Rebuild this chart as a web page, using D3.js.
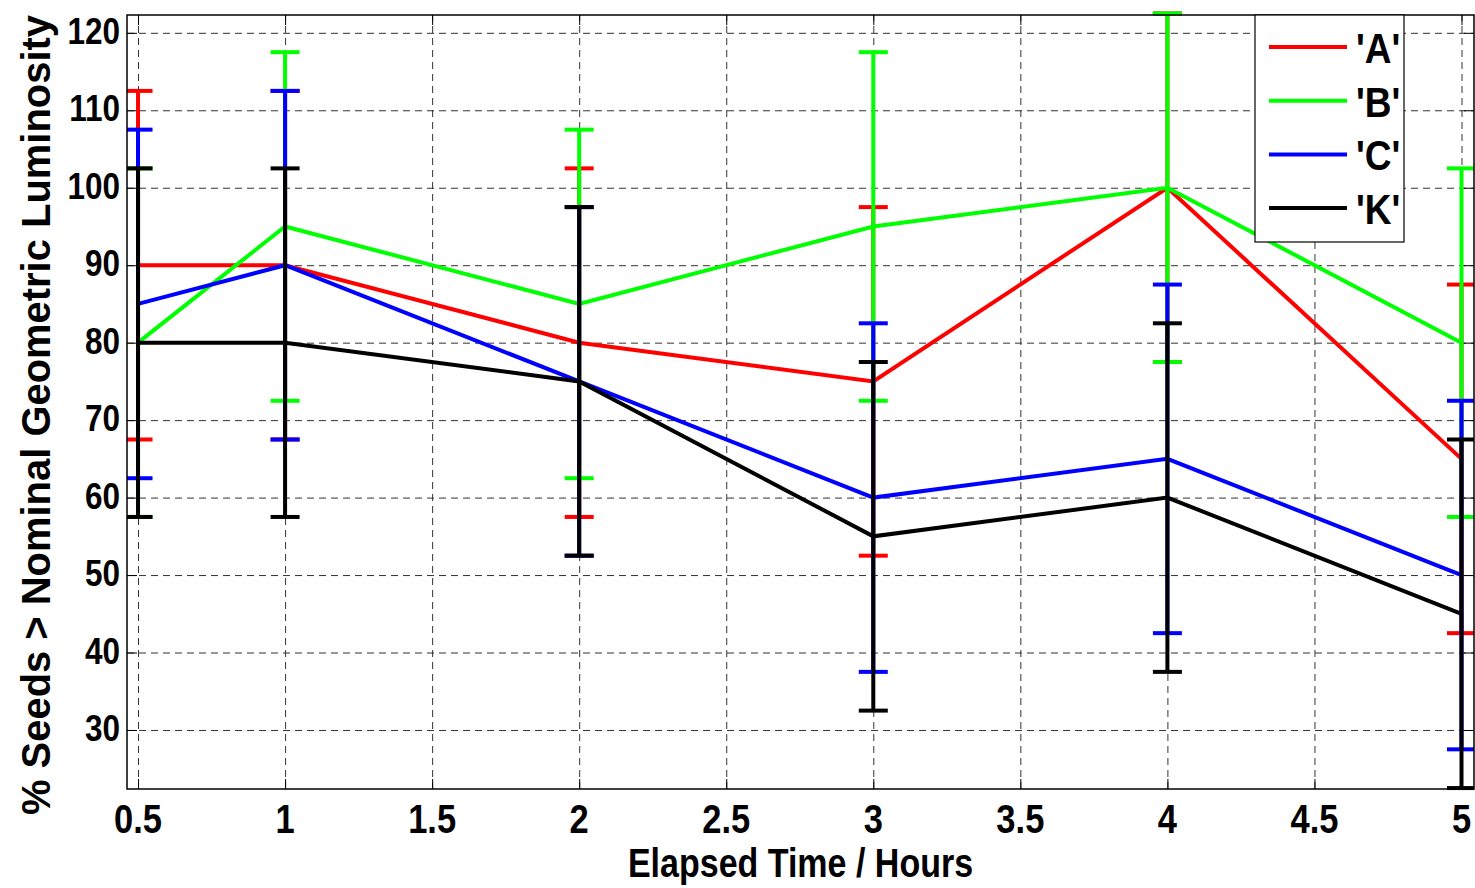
<!DOCTYPE html>
<html lang="en">
<head>
    <meta charset="UTF-8">
    <title>Seeds Luminosity vs Elapsed Time</title>
    <script src="https://d3js.org/d3.v7.min.js"></script>
    <style>
        body { margin: 0; background: #fff; }
        text { font-family: "Liberation Sans", Arial, Helvetica, sans-serif; font-weight: bold; fill: #000; }
        .grid line { stroke: #333; stroke-width: 1px; stroke-dasharray: 7,5; }
        .grid path { display: none; }
        .ticks path { display: none; }
        .ticks line { stroke: #000; stroke-width: 1px; }
        .series-line { fill: none; stroke-width: 4px; stroke-linejoin: miter; }
        .err { stroke-width: 4px; }
    </style>
</head>
<body>
<div id="chart"></div>
<script>
    // data
    const times = [0.5, 1, 2, 3, 4, 5];
    const seriesNames = ["'A'", "'B'", "'C'", "'K'"];
    const seriesColors = ["#ff0000", "#00ff00", "#0000ff", "#000000"];
    const valuesA = [90, 90, 80, 75, 100, 65];
    const valuesB = [80, 95, 85, 95, 100, 80];
    const valuesC = [85, 90, 75, 60, 65, 50];
    const valuesK = [80, 80, 75, 55, 60, 45];
    const errA = [22.5, 22.5, 22.5, 22.5, 22.5, 22.5];
    const errB = [22.5, 22.5, 22.5, 22.5, 22.5, 22.5];
    const errC = [22.5, 22.5, 22.5, 22.5, 22.5, 22.5];
    const errK = [22.5, 22.5, 22.5, 22.5, 22.5, 22.5];
    const xTicks = [0.5, 1, 1.5, 2, 2.5, 3, 3.5, 4, 4.5, 5];
    const yTicks = [30, 40, 50, 60, 70, 80, 90, 100, 110, 120];
    const xLabel = "Elapsed Time / Hours";
    const yLabel = "% Seeds > Nominal Geometric Luminosity";

    const series = seriesNames.map((name, i) => ({
        name,
        color: seriesColors[i],
        values: [valuesA, valuesB, valuesC, valuesK][i],
        errs: [errA, errB, errC, errK][i]
    }));

    const W = 1475, H = 888;
    const margin = {top: 15, right: 1, bottom: 99, left: 127};
    const width = W - margin.left - margin.right,
          height = H - margin.top - margin.bottom;
    const stretch = 1.17; // picture text is taller than it is wide

    const svg = d3.select("#chart").append("svg")
        .attr("width", W).attr("height", H);
    const g = svg.append("g").attr("transform", `translate(${margin.left},${margin.top})`);

    const x = d3.scaleLinear().domain([0.4625, 5.0425]).range([0, width]);
    const y = d3.scaleLinear().domain([22.38, 122.3]).range([height, 0]);

    g.append("rect").attr("width", width).attr("height", height).attr("fill", "#fff");

    // grid
    g.append("g").attr("class", "grid")
        .attr("transform", `translate(0,${height})`)
        .call(d3.axisBottom(x).tickValues(xTicks).tickSize(-height).tickFormat(""));
    g.append("g").attr("class", "grid")
        .call(d3.axisLeft(y).tickValues(yTicks).tickSize(-width).tickFormat(""));

    // inward ticks on all four sides
    g.append("g").attr("class", "ticks").attr("transform", `translate(0,${height})`)
        .call(d3.axisBottom(x).tickValues(xTicks).tickSize(-10).tickFormat(""));
    g.append("g").attr("class", "ticks")
        .call(d3.axisTop(x).tickValues(xTicks).tickSize(-10).tickFormat(""));
    g.append("g").attr("class", "ticks")
        .call(d3.axisLeft(y).tickValues(yTicks).tickSize(-10).tickFormat(""));
    g.append("g").attr("class", "ticks").attr("transform", `translate(${width},0)`)
        .call(d3.axisRight(y).tickValues(yTicks).tickSize(-10).tickFormat(""));

    svg.append("defs").append("clipPath").attr("id", "plotClip")
        .append("rect").attr("x", 0).attr("y", -6).attr("width", width).attr("height", height + 12);

    const plot = g.append("g").attr("clip-path", "url(#plotClip)");
    const line = d3.line().x((d, i) => x(times[i])).y(d => y(d));
    const capHalf = 14.5;

    series.forEach(s => {
        const eg = plot.append("g").attr("stroke", s.color).attr("class", "err");
        times.forEach((t, i) => {
            const lo = s.values[i] - s.errs[i], hi = s.values[i] + s.errs[i];
            eg.append("line").attr("x1", x(t)).attr("x2", x(t)).attr("y1", y(lo)).attr("y2", y(hi));
            eg.append("line").attr("x1", x(t) - capHalf).attr("x2", x(t) + capHalf).attr("y1", y(lo)).attr("y2", y(lo));
            eg.append("line").attr("x1", x(t) - capHalf).attr("x2", x(t) + capHalf).attr("y1", y(hi)).attr("y2", y(hi));
        });
        plot.append("path").datum(s.values).attr("class", "series-line")
            .attr("stroke", s.color).attr("d", line);
    });

    // frame
    g.append("rect").attr("width", width).attr("height", height)
        .attr("fill", "none").attr("stroke", "#000").attr("stroke-width", 1.5);

    function label(parent, px, py, txt, size, anchor, sx) {
        return parent.append("text")
            .attr("transform", `translate(${px},${py}) scale(${sx || 1},${stretch})`)
            .attr("text-anchor", anchor)
            .style("font-size", size + "px")
            .text(txt);
    }

    // tick labels
    xTicks.forEach(t => label(g, x(t), height + 44, t, 34.5, "middle"));
    yTicks.forEach(t => label(g, -7, y(t) + 11, t, 31.5, "end"));

    // axis titles
    label(svg, margin.left + width / 2, 877, xLabel, 34, "middle");
    svg.append("text")
        .attr("transform", "translate(50,415) rotate(-90)")
        .attr("text-anchor", "middle")
        .attr("textLength", 800)
        .attr("lengthAdjust", "spacingAndGlyphs")
        .style("font-size", "41px")
        .text(yLabel);

    // legend
    const lg = svg.append("g").attr("transform", "translate(1255,15)");
    lg.append("rect").attr("width", 149).attr("height", 227)
        .attr("fill", "#fff").attr("stroke", "#000").attr("stroke-width", 1.2);
    series.forEach((s, i) => {
        const ly = 32 + i * 53.7;
        lg.append("line").attr("x1", 14).attr("x2", 92).attr("y1", ly).attr("y2", ly)
            .attr("stroke", s.color).attr("stroke-width", 4);
        label(lg, 101, ly + 16, s.name, 37, "start");
    });
</script>
</body>
</html>
